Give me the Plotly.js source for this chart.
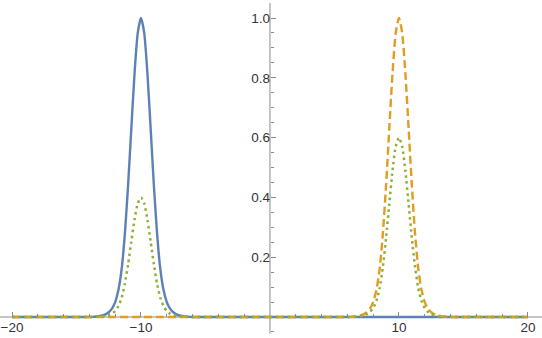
<!DOCTYPE html>
<html>
<head>
<meta charset="utf-8">
<script src="https://cdn.plot.ly/plotly-3.0.1.min.js"></script>
<style>html,body{margin:0;padding:0;background:#fff;}#chart{width:542px;height:338px;}</style>
</head>
<body>
<div id="chart"></div>
<script>
// x sample positions
const xValues = [-20, -16,
  -14, -13.75, -13.5, -13.25, -13, -12.75, -12.5, -12.25, -12, -11.75, -11.5, -11.25, -11, -10.75, -10.5, -10.25,
  -10, -9.75, -9.5, -9.25, -9, -8.75, -8.5, -8.25, -8, -7.75, -7.5, -7.25, -7, -6.75, -6.5, -6.25, -6,
  -3, 0, 3,
  6, 6.25, 6.5, 6.75, 7, 7.25, 7.5, 7.75, 8, 8.25, 8.5, 8.75, 9, 9.25, 9.5, 9.75,
  10, 10.25, 10.5, 10.75, 11, 11.25, 11.5, 11.75, 12, 12.25, 12.5, 12.75, 13, 13.25, 13.5, 13.75, 14,
  16, 20];

// solid blue curve (peak at -10)
const blueValues = [0, 0,
  0, 0.0005, 0.0015, 0.003, 0.005, 0.009, 0.016, 0.028, 0.05, 0.09, 0.16, 0.278, 0.44, 0.63, 0.814, 0.95,
  1, 0.95, 0.814, 0.63, 0.44, 0.278, 0.16, 0.09, 0.05, 0.028, 0.016, 0.009, 0.005, 0.003, 0.0015, 0.0005, 0,
  0, 0, 0,
  0, 0, 0, 0, 0, 0, 0, 0, 0, 0, 0, 0, 0, 0, 0, 0,
  0, 0, 0, 0, 0, 0, 0, 0, 0, 0, 0, 0, 0, 0, 0, 0, 0,
  0, 0];

// dashed orange curve (peak at 10)
const orangeValues = [0, 0,
  0, 0, 0, 0, 0, 0, 0, 0, 0, 0, 0, 0, 0, 0, 0, 0,
  0, 0, 0, 0, 0, 0, 0, 0, 0, 0, 0, 0, 0, 0, 0, 0, 0,
  0, 0, 0,
  0, 0.0005, 0.0015, 0.003, 0.005, 0.009, 0.016, 0.028, 0.05, 0.09, 0.16, 0.278, 0.44, 0.63, 0.814, 0.95,
  1, 0.95, 0.814, 0.63, 0.44, 0.278, 0.16, 0.09, 0.05, 0.028, 0.016, 0.009, 0.005, 0.003, 0.0015, 0.0005, 0,
  0, 0];

// dotted green curve (0.4 at -10, 0.6 at 10)
const greenValues = [0, 0,
  0, 0.0002, 0.0006, 0.0012, 0.002, 0.0036, 0.0064, 0.0112, 0.02, 0.036, 0.064, 0.111, 0.176, 0.252, 0.326, 0.38,
  0.4, 0.38, 0.326, 0.252, 0.176, 0.111, 0.064, 0.036, 0.02, 0.0112, 0.0064, 0.0036, 0.002, 0.0012, 0.0006, 0.0002, 0,
  0, 0, 0,
  0, 0.0003, 0.0009, 0.0018, 0.003, 0.0054, 0.0096, 0.0168, 0.03, 0.054, 0.096, 0.167, 0.264, 0.378, 0.488, 0.57,
  0.6, 0.57, 0.488, 0.378, 0.264, 0.167, 0.096, 0.054, 0.03, 0.0168, 0.0096, 0.0054, 0.003, 0.0018, 0.0009, 0.0003, 0,
  0, 0];

const xTickVals = [-20, -10, 10, 20];
const xTickText = ['\u221220', '\u221210', '10', '20'];
const xMinorTicks = [-18, -16, -14, -12, -8, -6, -4, -2, 2, 4, 6, 8, 12, 14, 16, 18];
const yTickVals = [0.2, 0.4, 0.6, 0.8, 1.0];
const yTickText = ['0.2', '0.4', '0.6', '0.8', '1.0'];
const yMinorTicks = [-0.05, 0.05, 0.1, 0.15, 0.25, 0.3, 0.35, 0.45, 0.5, 0.55, 0.65, 0.7, 0.75, 0.85, 0.9, 0.95];

const xRange = [-20.93, 21.09];
const yRange = [-0.0702, 1.0602];
const axisColor = '#8a8a8a';
const labelFont = {family: 'Liberation Sans, Arial, sans-serif', size: 13.5, color: '#333333'};

const traces = [
  {x: xValues, y: blueValues, type: 'scatter', mode: 'lines',
   line: {color: '#5E81B5', width: 2.4, dash: 'solid', shape: 'spline', smoothing: 0.6}, hoverinfo: 'skip'},
  {x: xValues, y: orangeValues, type: 'scatter', mode: 'lines',
   line: {color: '#E19C24', width: 2.4, dash: '8px,4px', shape: 'spline', smoothing: 0.6}, hoverinfo: 'skip'},
  {x: xValues, y: greenValues, type: 'scatter', mode: 'lines',
   line: {color: '#8FB032', width: 2.5, dash: '2.5px,3.5px', shape: 'spline', smoothing: 0.6}, hoverinfo: 'skip'}
];

const layout = {
  width: 542, height: 338,
  margin: {l: 0, r: 0, t: 0, b: 0},
  paper_bgcolor: '#fff', plot_bgcolor: '#fff',
  showlegend: false,
  xaxis: {
    range: xRange, anchor: 'free',
    position: (0 - yRange[0]) / (yRange[1] - yRange[0]),
    showgrid: false, zeroline: false, showline: false,
    ticks: 'inside', ticklen: 5, tickwidth: 1, tickcolor: axisColor,
    tickmode: 'array', tickvals: xTickVals, ticktext: xTickText,
    tickfont: labelFont,
    minor: {tickmode: 'array', tickvals: xMinorTicks, ticks: 'inside', ticklen: 3, tickwidth: 1, tickcolor: axisColor, showgrid: false}
  },
  yaxis: {
    range: yRange, anchor: 'free',
    position: (0 - xRange[0]) / (xRange[1] - xRange[0]),
    showgrid: false, zeroline: false, showline: false,
    ticks: 'inside', ticklen: 5, tickwidth: 1, tickcolor: axisColor,
    tickmode: 'array', tickvals: yTickVals, ticktext: yTickText,
    tickfont: labelFont,
    minor: {tickmode: 'array', tickvals: yMinorTicks, ticks: 'inside', ticklen: 3, tickwidth: 1, tickcolor: axisColor, showgrid: false}
  },
  shapes: [
    {type: 'line', layer: 'below', xref: 'paper', yref: 'y', x0: 0, x1: 1, y0: 0, y1: 0,
     line: {color: axisColor, width: 1}},
    {type: 'line', layer: 'below', xref: 'x', yref: 'y', x0: 0, x1: 0, y0: -0.055, y1: 1.05,
     line: {color: axisColor, width: 1}}
  ]
};

Plotly.newPlot('chart', traces, layout, {staticPlot: true, displayModeBar: false});
</script>
</body>
</html>
